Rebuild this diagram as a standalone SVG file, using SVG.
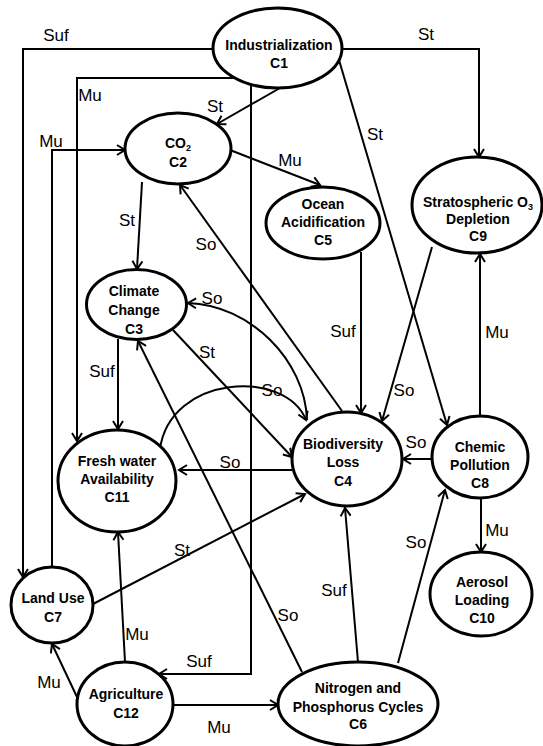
<svg xmlns="http://www.w3.org/2000/svg" width="543" height="746" viewBox="0 0 543 746">
<defs>
<style>
.node ellipse{fill:#fff;stroke:#000;stroke-width:3}
.node text{font-family:"Liberation Sans",Arial,sans-serif;font-weight:bold;font-size:14px;text-anchor:middle;fill:#000}
.edge{fill:none;stroke:#000;stroke-width:2;marker-end:url(#arr)}
.lbl{font-family:"Liberation Sans",Arial,sans-serif;font-size:17px;text-anchor:middle;fill:#000}
</style>
<marker id="arr" markerUnits="userSpaceOnUse" markerWidth="12" markerHeight="12" refX="10" refY="6" orient="auto" overflow="visible">
<path d="M2,1 L10,6 L2,11" fill="none" stroke="#000" stroke-width="2"/>
</marker>
</defs>
<rect width="543" height="746" fill="#fff"/>
<g id="connectors">
<path class="edge" d="M214,49 H23 V577"/>
<path class="edge" d="M235,78 H77 V441"/>
<path class="edge" d="M251,85 V674 H159"/>
<path class="edge" d="M280,88 L217,124"/>
<path class="edge" d="M342,49 H479 V157"/>
<path class="edge" d="M339,60 L447,425"/>
<path class="edge" d="M230,150 L320,185"/>
<path class="edge" d="M142,182 L137,269"/>
<path class="edge" d="M342,411 L180,185"/>
<path class="edge" d="M307,420 C305,360 250,305 188,303"/>
<path class="edge" d="M160,449 C170,375 285,368 306,420"/>
<path class="edge" d="M292,470 H179"/>
<path class="edge" d="M173,330 L292,457"/>
<path class="edge" d="M93,604 L305,494"/>
<path class="edge" d="M302,672 L138,341"/>
<path class="edge" d="M358,662 L345,508"/>
<path class="edge" d="M398,663 L445,490"/>
<path class="edge" d="M481,499 V552"/>
<path class="edge" d="M480,417 V254"/>
<path class="edge" d="M432,459 H403"/>
<path class="edge" d="M432,247 L382,421"/>
<path class="edge" d="M361,252 V413"/>
<path class="edge" d="M125,662 L118,532"/>
<path class="edge" d="M77,697 L52,644"/>
<path class="edge" d="M173,705 H278"/>
<path class="edge" d="M52,567 V150 H125"/>
<path class="edge" d="M118,339 V429"/>
</g>
<g id="edge-labels">
<text class="lbl" x="56" y="41">Suf</text>
<text class="lbl" x="90" y="101">Mu</text>
<text class="lbl" x="215" y="112">St</text>
<text class="lbl" x="51" y="147">Mu</text>
<text class="lbl" x="127" y="226">St</text>
<text class="lbl" x="206" y="250">So</text>
<text class="lbl" x="290" y="166">Mu</text>
<text class="lbl" x="426" y="40">St</text>
<text class="lbl" x="375" y="140">St</text>
<text class="lbl" x="212" y="304">So</text>
<text class="lbl" x="207" y="358">St</text>
<text class="lbl" x="102" y="377">Suf</text>
<text class="lbl" x="272" y="396">So</text>
<text class="lbl" x="230" y="468">So</text>
<text class="lbl" x="343" y="337">Suf</text>
<text class="lbl" x="404" y="396">So</text>
<text class="lbl" x="497" y="338">Mu</text>
<text class="lbl" x="416" y="448">So</text>
<text class="lbl" x="182" y="556">St</text>
<text class="lbl" x="137" y="640">Mu</text>
<text class="lbl" x="199" y="667">Suf</text>
<text class="lbl" x="49" y="688">Mu</text>
<text class="lbl" x="219" y="733">Mu</text>
<text class="lbl" x="288" y="621">So</text>
<text class="lbl" x="334" y="596">Suf</text>
<text class="lbl" x="416" y="548">So</text>
<text class="lbl" x="497" y="536">Mu</text>
</g>
<g id="C1" class="node"><ellipse cx="277.5" cy="48" rx="64.5" ry="40"/><text x="279" y="50">Industrialization</text><text x="279" y="68">C1</text></g>
<g id="C2" class="node"><ellipse cx="178" cy="148.5" rx="53" ry="35.5"/><text x="178" y="148">CO<tspan font-size="9" dy="3">2</tspan></text><text x="178" y="167">C2</text></g>
<g id="C3" class="node"><ellipse cx="136.5" cy="304.5" rx="50" ry="35"/><text x="134" y="296">Climate</text><text x="134" y="315">Change</text><text x="134" y="334">C3</text></g>
<g id="C4" class="node"><ellipse cx="347" cy="459" rx="55" ry="47"/><text x="343" y="449">Biodiversity</text><text x="343" y="467">Loss</text><text x="343" y="486">C4</text></g>
<g id="C5" class="node"><ellipse cx="323" cy="223" rx="57" ry="36"/><text x="323" y="209">Ocean</text><text x="323" y="227">Acidification</text><text x="323" y="245">C5</text></g>
<g id="C6" class="node"><ellipse cx="358" cy="704" rx="80" ry="42"/><text x="358" y="693">Nitrogen and</text><text x="358" y="712">Phosphorus Cycles</text><text x="358" y="729">C6</text></g>
<g id="C7" class="node"><ellipse cx="52" cy="605" rx="41" ry="38"/><text x="53" y="603">Land Use</text><text x="53" y="622">C7</text></g>
<g id="C8" class="node"><ellipse cx="480" cy="457" rx="48" ry="41"/><text x="480" y="452">Chemic</text><text x="480" y="470">Pollution</text><text x="480" y="488">C8</text></g>
<g id="C9" class="node"><ellipse cx="477" cy="205" rx="65" ry="48"/><text x="478" y="207">Stratospheric O<tspan font-size="9" dy="3">3</tspan></text><text x="478" y="224">Depletion</text><text x="478" y="241">C9</text></g>
<g id="C10" class="node"><ellipse cx="481" cy="594" rx="51" ry="42"/><text x="482" y="587">Aerosol</text><text x="482" y="605">Loading</text><text x="482" y="623">C10</text></g>
<g id="C11" class="node"><ellipse cx="117" cy="481" rx="59" ry="51"/><text x="117" y="466">Fresh water</text><text x="117" y="484">Availability</text><text x="117" y="502">C11</text></g>
<g id="C12" class="node"><ellipse cx="125" cy="704" rx="48" ry="42"/><text x="126" y="699">Agriculture</text><text x="126" y="718">C12</text></g>
</svg>
